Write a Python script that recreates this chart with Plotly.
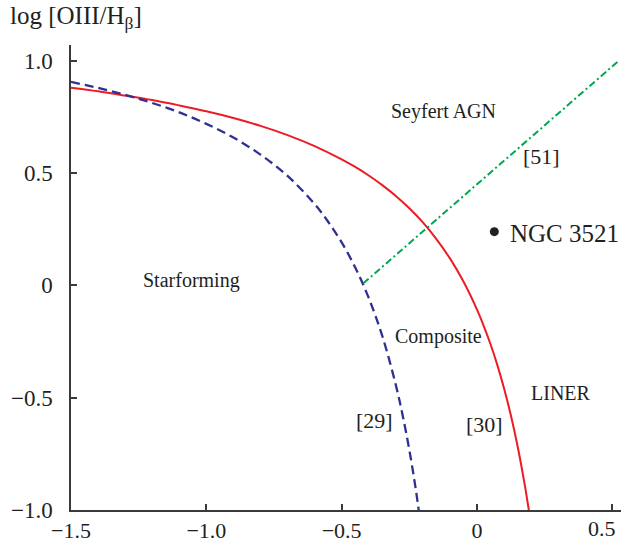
import plotly.graph_objects as go

# Kewley (red, solid) curve
red_x = [-1.5, -1.4, -1.3, -1.2, -1.1, -1.0, -0.9, -0.8, -0.7, -0.6, -0.5, -0.45, -0.4, -0.35,
         -0.3, -0.25, -0.2, -0.15, -0.1, -0.05, 0.0, 0.025, 0.05, 0.075, 0.1, 0.125, 0.15, 0.175, 0.19, 0.20]
red_y = [0.880, 0.864, 0.845, 0.825, 0.801, 0.775, 0.745, 0.710, 0.669, 0.620, 0.561, 0.527, 0.489, 0.446,
         0.398, 0.343, 0.280, 0.206, 0.120, 0.017, -0.108, -0.181, -0.262, -0.354, -0.459, -0.578, -0.716, -0.878, -0.989, -1.069]

# Kauffmann (blue, dashed) curve
blue_x = [-1.5, -1.4, -1.3, -1.2, -1.1, -1.0, -0.9, -0.8, -0.7, -0.6, -0.55, -0.5, -0.45, -0.4,
          -0.35, -0.3, -0.275, -0.25, -0.225, -0.2]
blue_y = [0.906, 0.879, 0.848, 0.812, 0.770, 0.719, 0.658, 0.582, 0.487, 0.362, 0.283, 0.191, 0.080, -0.056,
          -0.225, -0.443, -0.577, -0.733, -0.918, -1.14]

# Seyfert / LINER division (green, dash-dot)
green_x = [-0.42, 0.52]
green_y = [0.009, 0.996]

# Object
obj_x = [0.064]
obj_y = [0.239]
obj_name = "NGC 3521"
obj_label_x = 0.1155
obj_label_y = 0.230

xtick_vals = [-1.5, -1.0, -0.5, 0.0, 0.5]
xtick_text = ["\u22121.5", "\u22121.0", "\u22120.5", "0", ""]
last_xtick_val = 0.5
last_xtick_text = "0.5"
ytick_vals = [-1.0, -0.5, 0.0, 0.5, 1.0]
ytick_text = ["\u22121.0", "\u22120.5", "0", "0.5", "1.0"]

labels = [
    ("Seyfert AGN", -0.124, 0.772, 20),
    ("[51]", 0.237, 0.572, 22),
    ("Starforming", -1.054, 0.021, 20),
    ("Composite", -0.143, -0.228, 20),
    ("LINER", 0.311, -0.477, 20),
    ("[29]", -0.379, -0.601, 22),
    ("[30]", 0.027, -0.619, 22),
]

FONT = "Liberation Serif, Times New Roman, serif"
TXT = "#231f20"

fig = go.Figure()
fig.add_trace(go.Scatter(x=red_x, y=red_y, mode="lines", line=dict(color="#ec1c24", width=2, shape="spline"),
                         showlegend=False, hoverinfo="skip"))
fig.add_trace(go.Scatter(x=blue_x, y=blue_y, mode="lines",
                         line=dict(color="#2e3192", width=2.3, dash="9px,5px", shape="spline"),
                         showlegend=False, hoverinfo="skip"))
fig.add_trace(go.Scatter(x=green_x, y=green_y, mode="lines",
                         line=dict(color="#00a651", width=2, dash="7px,3px,2px,3px"),
                         showlegend=False, hoverinfo="skip"))
fig.add_trace(go.Scatter(x=obj_x, y=obj_y, mode="markers",
                         marker=dict(color=TXT, size=9),
                         showlegend=False, hoverinfo="skip"))
fig.add_annotation(x=obj_label_x, y=obj_label_y, text=obj_name, showarrow=False,
                   xanchor="left", yanchor="middle", font=dict(family=FONT, size=25, color=TXT))

for t, x, y, s in labels:
    fig.add_annotation(x=x, y=y, text=t, showarrow=False, font=dict(family=FONT, size=s, color=TXT),
                       xanchor="center", yanchor="middle")

# last x tick label, kept inside the page edge
fig.add_annotation(x=last_xtick_val, xref="x", yref="paper", y=-0.039, text=last_xtick_text,
                   showarrow=False, xanchor="right", yanchor="middle", xshift=6,
                   font=dict(family=FONT, size=22, color=TXT))

fig.add_annotation(xref="paper", yref="paper", x=-0.114, y=1.060, text="log [OIII/H<sub>\u03b2</sub>]",
                   showarrow=False, xanchor="left", yanchor="middle",
                   font=dict(family=FONT, size=25, color=TXT))

axis_common = dict(showgrid=False, zeroline=False, showline=True, linecolor="#3a3a3a", linewidth=1.5,
                   ticks="inside", ticklen=6, tickwidth=1.5, tickcolor="#3a3a3a", automargin=False)

fig.update_xaxes(range=[-1.5, 0.532], tickvals=xtick_vals, ticktext=xtick_text, ticklabelstandoff=0,
                 tickfont=dict(family=FONT, size=22, color=TXT), **axis_common)
fig.update_yaxes(range=[-1.0, 1.07], tickvals=ytick_vals, ticktext=ytick_text, ticklabelstandoff=12,
                 tickfont=dict(family=FONT, size=23, color=TXT), **axis_common)

fig.update_layout(width=621, height=543, margin=dict(l=71, r=0, t=45, b=33),
                  plot_bgcolor="white", paper_bgcolor="white")

fig.write_html("out.html")
